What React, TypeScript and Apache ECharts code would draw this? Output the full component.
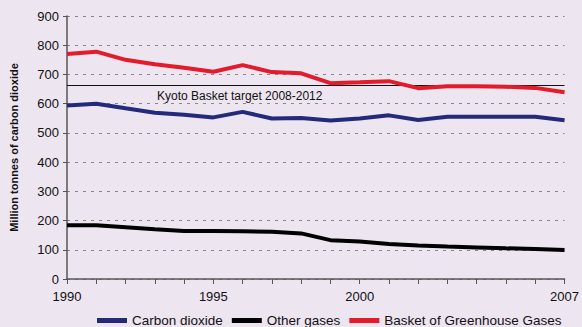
import React, { useEffect, useRef } from "react";
import * as echarts from "echarts";

const years = ["1990","1991","1992","1993","1994","1995","1996","1997","1998","1999","2000","2001","2002","2003","2004","2005","2006","2007"];
const carbonDioxide = [594, 600, 584, 569, 562, 553, 572, 549, 551, 542, 549, 560, 544, 555, 555, 555, 555, 543];
const otherGases = [184, 184, 177, 170, 164, 164, 163, 162, 156, 133, 128, 120, 115, 111, 108, 105, 103, 99];
const basket = [770, 778, 750, 735, 723, 709, 732, 708, 704, 670, 673, 677, 653, 660, 660, 658, 654, 639];
const kyotoTarget = 662;
const kyotoLabel = "Kyoto Basket target 2008-2012";
const shownYearLabels = ["1990", "1995", "2000", "2007"];

export default function App() {
  const ref = useRef<HTMLDivElement>(null);
  useEffect(() => {
    if (!ref.current) return;
    const chart = echarts.init(ref.current, null, { renderer: "svg" });
    const font = "Liberation Sans, Arial, sans-serif";
    chart.setOption({
      animation: false,
      backgroundColor: "#ede5f0",
      textStyle: { fontFamily: font },
      grid: { left: 67, right: 15, top: 16, bottom: 48 },
      legend: {
        top: 308,
        left: 92,
        itemWidth: 30,
        itemHeight: 5,
        itemGap: 9,
        icon: "rect",
        textStyle: { fontSize: 13.5, lineHeight: 15, color: "#111", fontFamily: font },
        data: ["Carbon dioxide", "Other gases", "Basket of Greenhouse Gases"],
      },
      xAxis: {
        type: "category",
        data: years,
        boundaryGap: false,
        axisLine: { lineStyle: { color: "#555", width: 1.5 } },
        axisTick: { show: true, interval: 0, length: 5, lineStyle: { color: "#555" } },
        axisLabel: {
          interval: (idx: number, val: string) => shownYearLabels.includes(val),
          fontSize: 13,
          color: "#111",
          margin: 11,
          fontFamily: font,
        },
        splitLine: { show: false },
      },
      yAxis: {
        type: "value",
        min: 0,
        max: 900,
        interval: 100,
        name: "Million tonnes of carbon dioxide",
        nameLocation: "middle",
        nameGap: 48,
        nameTextStyle: { fontSize: 11, fontWeight: "bold", color: "#111", fontFamily: font },
        axisLine: { show: true, lineStyle: { color: "#555", width: 1.5 } },
        axisTick: { show: true, length: 4, lineStyle: { color: "#555" } },
        axisLabel: { fontSize: 13, color: "#111", margin: 8, fontFamily: font },
        splitLine: { show: true, lineStyle: { color: "#888", type: [3, 5], width: 1 } },
      },
      series: [
        {
          name: "Carbon dioxide",
          type: "line",
          data: carbonDioxide,
          symbol: "none",
          color: "#232a7c",
          lineStyle: { width: 4, color: "#232a7c" },
        },
        {
          name: "Other gases",
          type: "line",
          data: otherGases,
          symbol: "none",
          color: "#000",
          lineStyle: { width: 4, color: "#000" },
        },
        {
          name: "Basket of Greenhouse Gases",
          type: "line",
          data: basket,
          symbol: "none",
          color: "#e31b2a",
          lineStyle: { width: 4, color: "#e31b2a" },
          z: 3,
          markLine: {
            silent: true,
            symbol: "none",
            z: 1,
            lineStyle: { color: "#111", width: 1, type: "solid" },
            label: {
              show: true,
              formatter: kyotoLabel,
              position: "insideStartBottom",
              distance: [90, 4],
              fontSize: 12,
              color: "#111",
              fontFamily: font,
            },
            data: [{ yAxis: kyotoTarget }],
          },
        },
      ],
    });
    return () => chart.dispose();
  }, []);
  return (
    <div
      ref={ref}
      style={{ position: "fixed", left: 0, top: 0, width: 582, height: 327 }}
    />
  );
}
